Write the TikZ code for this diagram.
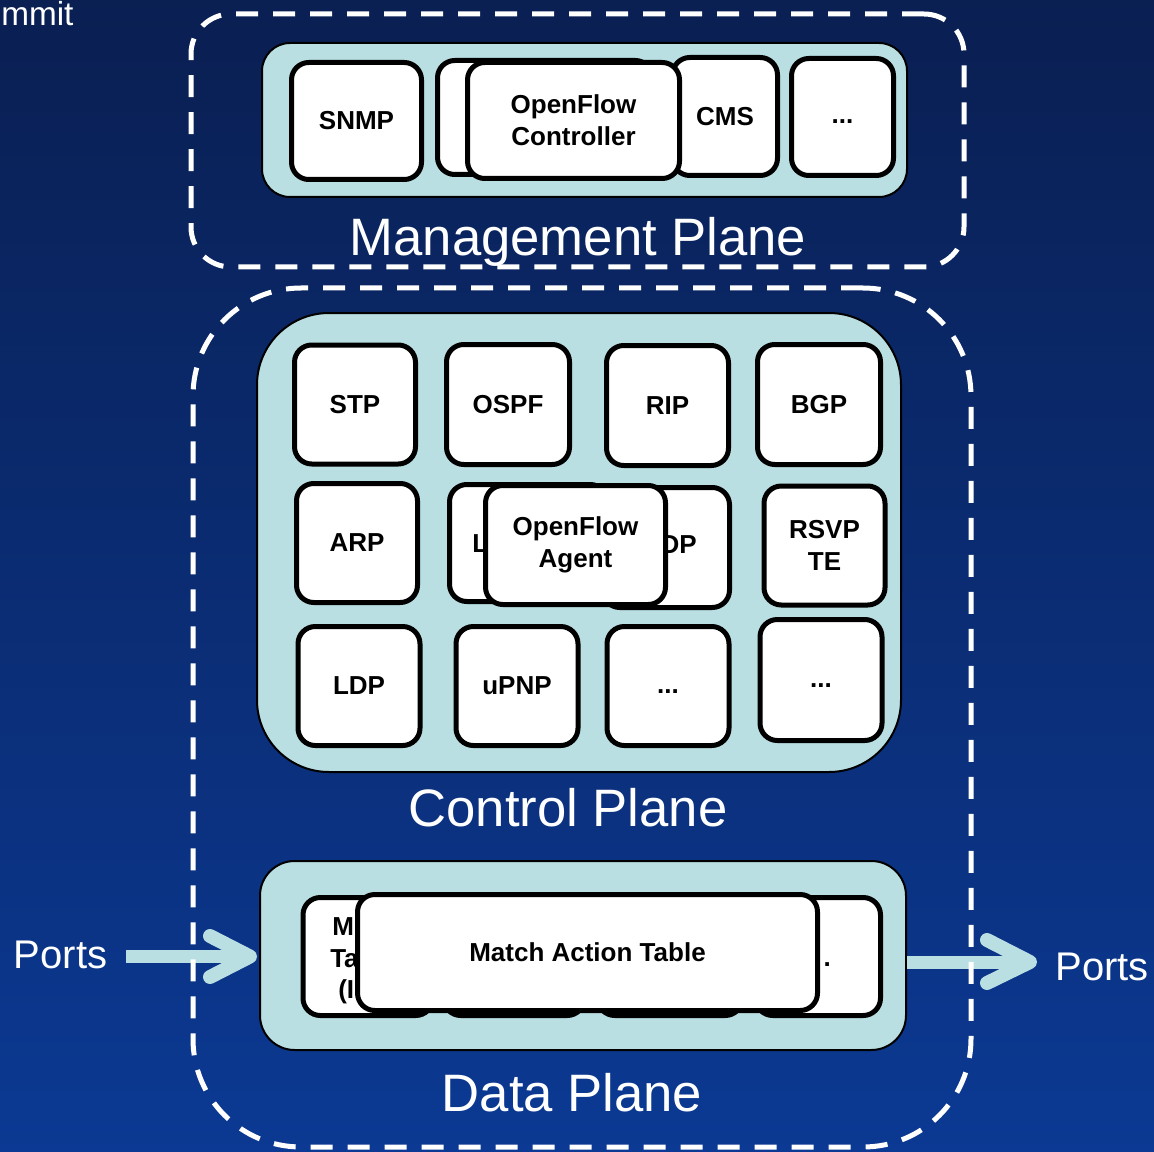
\documentclass[tikz,border=0pt]{standalone}
\usepackage{fontspec}
\setmainfont{Liberation Sans}
\definecolor{lteal}{HTML}{B9DFE3}
\definecolor{bgtop}{HTML}{0A1F52}
\definecolor{bgbot}{HTML}{0B3993}
\begin{document}
\begin{tikzpicture}[x=0.75pt,y=-0.75pt,
  sz/.style 2 args={minimum width=#1*0.75pt, minimum height=#2*0.75pt},
  wb/.style={draw=black, line width=3.75pt, fill=white, rounded corners=13pt, inner sep=0pt, align=center,
    font=\bfseries\fontsize{19.5}{24}\selectfont},
  dotsbox/.style={text height=10.5pt, text depth=0pt},
  lbl/.style={inner sep=0pt, font=\bfseries\fontsize{19.5}{24}\selectfont},
  lb/.style={draw=black, line width=1.5pt, fill=lteal, inner sep=0pt},
  dsh/.style={draw=white, line width=3.75pt, dash pattern=on 16.5pt off 11.25pt, inner sep=0pt},
  plane/.style={text=white, inner sep=0pt, font=\fontsize{39.5}{47}\selectfont},
  ports/.style={text=white, inner sep=0pt, font=\fontsize{30}{36}\selectfont},
  shaft/.style={draw=lteal, line width=9.75pt},
  chev/.style={draw=lteal, line width=10.5pt, line cap=round, line join=round}]
\useasboundingbox (0,0) rectangle (1154,1152);
\shade[top color=bgtop, bottom color=bgbot] (0,0) rectangle (1154,1152);
\node[text=white, inner sep=0pt, anchor=base west, font=\fontsize{25}{30}\selectfont] (summit) at (1,26) {mmit};

% light containers
\node[lb, sz={645}{154}, rounded corners=21pt] (mgL) at (584.5,120) {};
\node[lb, sz={644}{459}, rounded corners=54pt] (cpL) at (579,542.5) {};
\node[lb, sz={646}{189}, rounded corners=26pt] (dpL) at (583,955.5) {};

% management plane
\node[wb, sz={215}{114}] (mgBack) at (545,117.5) {};
\node[wb, sz={105}{118}] (mgCMS) at (725,116.5) {CMS};
\node[wb, sz={212}{116}] (mgOFC) at (573.5,120.5) {OpenFlow\\Controller};
\node[wb, sz={130}{117}] (mgSNMP) at (356.5,121) {SNMP};
\node[wb, dotsbox, sz={102}{117}] (mgDots) at (842.5,117) {...};

% control plane
\node[wb, sz={121}{119}] (stp) at (355,404.5) {STP};
\node[wb, sz={123}{120}] (ospf) at (508,404.5) {OSPF};
\node[wb, sz={122}{120}] (rip) at (667.5,405.5) {RIP};
\node[wb, sz={123}{120}] (bgp) at (819,404.5) {BGP};
\node[wb, sz={121}{119}] (arp) at (357,543) {ARP};
\node[wb, sz={158}{117}] (backL) at (528.5,543) {};
\node[wb, sz={127}{120}] (backDP) at (666,547.5) {};
\node[lbl, anchor=base west] (tL) at (472,552) {L};
\node[lbl, anchor=base east] (tDP) at (697,553) {DP};
\node[wb, sz={180}{119}] (ofa) at (575.5,545) {OpenFlow\\Agent};
\node[wb, sz={121}{119}] (rsvp) at (824.5,545.5) {RSVP\\TE};
\node[wb, sz={122}{119}] (ldp) at (359,686) {LDP};
\node[wb, sz={122}{119}] (upnp) at (517,686) {uPNP};
\node[wb, dotsbox, sz={122}{119}] (dots3) at (668,686) {...};
\node[wb, dotsbox, sz={122}{121}] (dots4) at (821,680) {...};

% data plane
\node[wb, sz={130}{118}] (dB1) at (368,956.5) {};
\node[wb, sz={141}{118}] (dB2) at (514,956.5) {};
\node[wb, sz={145}{118}] (dB3) at (670,956.5) {};
\node[wb, sz={125}{118}] (dB4) at (818,956.5) {};
\node[lbl, anchor=base west] (tM) at (332,935) {M};
\node[lbl, anchor=base west] (tTa) at (330,967) {Ta};
\node[lbl, anchor=base west] (tPar) at (338,998) {(I};
\node[lbl, anchor=base east] (tDot) at (831,966) {.};
\node[wb, sz={460}{116}] (mat) at (587.5,952.5) {Match Action Table};

% ports arrows
\node[ports, anchor=base] (portsL) at (60.5,968) {Ports};
\node[ports, anchor=base] (portsR) at (1102,980) {Ports};
\coordinate (tipL) at (250,956.5);
\coordinate (tipR) at (1030,962);
\draw[shaft, shorten <=14.25pt] (portsL.east |- tipL) -- (tipL);
\draw[chev] ([shift={(-40,-20.5)}]tipL) -- (tipL) -- ([shift={(-40,20.5)}]tipL);
\draw[shaft] (dpL.east |- tipR) -- (tipR);
\draw[chev] ([shift={(-43,-22)}]tipR) -- (tipR) -- ([shift={(-43,21)}]tipR);

% dashed planes
\node[dsh, sz={773}{253}, rounded corners=30pt] (mgD) at (577.5,140.5) {};
\node[dsh, sz={778}{859}, rounded corners=81pt] (cpD) at (582,717.5) {};

% plane labels
\node[plane, anchor=base] (mgT) at (578,256) {Management Plane};
\node[plane, anchor=base] (cpT) at (568,826) {Control Plane};
\node[plane, anchor=base] (dpT) at (572,1111) {Data Plane};
\end{tikzpicture}
\end{document}
